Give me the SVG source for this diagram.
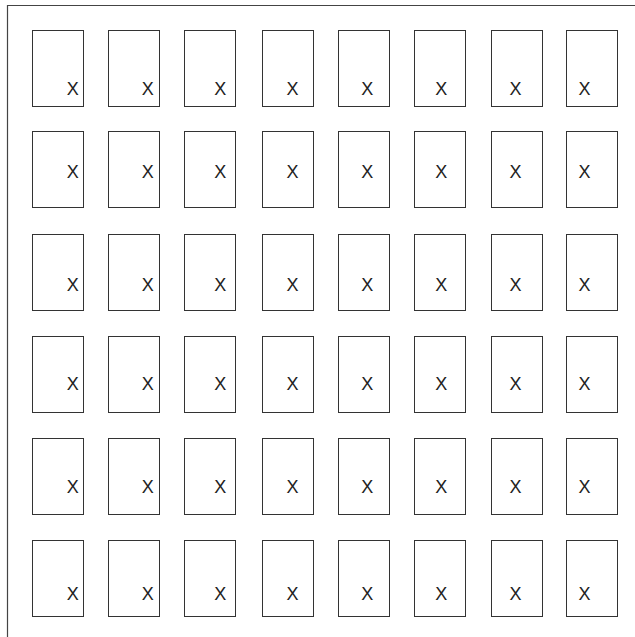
<svg xmlns="http://www.w3.org/2000/svg" width="635" height="637" viewBox="0 0 635 637">
<style>
.b{fill:#fff;stroke:#333;stroke-width:1}
.t{font-family:"Liberation Sans",Arial,sans-serif;font-size:18px;fill:#222;text-anchor:middle}
.f{fill:none;stroke:#444;stroke-width:1.2}
</style>
<rect width="635" height="637" fill="#fff"/>
<path class="f" d="M7.5,637 V5.5 H635"/>
<g id="connectors"/>
<g id="grid">
<g id="r1" transform="translate(0,30)">
<g id="n1-1"><rect class="b" x="32.5" y="0.5" width="51" height="76"/><text class="t" x="72.8" y="65">X</text></g>
<g id="n1-2"><rect class="b" x="108.5" y="0.5" width="51" height="76"/><text class="t" x="147.7" y="65">X</text></g>
<g id="n1-3"><rect class="b" x="184.5" y="0.5" width="51" height="76"/><text class="t" x="220.3" y="65">X</text></g>
<g id="n1-4"><rect class="b" x="262.5" y="0.5" width="51" height="76"/><text class="t" x="292.5" y="65">X</text></g>
<g id="n1-5"><rect class="b" x="338.5" y="0.5" width="51" height="76"/><text class="t" x="367.2" y="65">X</text></g>
<g id="n1-6"><rect class="b" x="414.5" y="0.5" width="51" height="76"/><text class="t" x="441.2" y="65">X</text></g>
<g id="n1-7"><rect class="b" x="491.5" y="0.5" width="51" height="76"/><text class="t" x="515.5" y="65">X</text></g>
<g id="n1-8"><rect class="b" x="566.5" y="0.5" width="51" height="76"/><text class="t" x="584.5" y="65">X</text></g>
</g>
<g id="r2" transform="translate(0,132)">
<g id="n2-1"><rect class="b" x="32.5" y="-0.5" width="51" height="76"/><text class="t" x="72.8" y="45.7">X</text></g>
<g id="n2-2"><rect class="b" x="108.5" y="-0.5" width="51" height="76"/><text class="t" x="147.7" y="45.7">X</text></g>
<g id="n2-3"><rect class="b" x="184.5" y="-0.5" width="51" height="76"/><text class="t" x="220.3" y="45.7">X</text></g>
<g id="n2-4"><rect class="b" x="262.5" y="-0.5" width="51" height="76"/><text class="t" x="292.5" y="45.7">X</text></g>
<g id="n2-5"><rect class="b" x="338.5" y="-0.5" width="51" height="76"/><text class="t" x="367.2" y="45.7">X</text></g>
<g id="n2-6"><rect class="b" x="414.5" y="-0.5" width="51" height="76"/><text class="t" x="441.2" y="45.7">X</text></g>
<g id="n2-7"><rect class="b" x="491.5" y="-0.5" width="51" height="76"/><text class="t" x="515.5" y="45.7">X</text></g>
<g id="n2-8"><rect class="b" x="566.5" y="-0.5" width="51" height="76"/><text class="t" x="584.5" y="45.7">X</text></g>
</g>
<g id="r3" transform="translate(0,234)">
<g id="n3-1"><rect class="b" x="32.5" y="0.5" width="51" height="76"/><text class="t" x="72.8" y="56.7">X</text></g>
<g id="n3-2"><rect class="b" x="108.5" y="0.5" width="51" height="76"/><text class="t" x="147.7" y="56.7">X</text></g>
<g id="n3-3"><rect class="b" x="184.5" y="0.5" width="51" height="76"/><text class="t" x="220.3" y="56.7">X</text></g>
<g id="n3-4"><rect class="b" x="262.5" y="0.5" width="51" height="76"/><text class="t" x="292.5" y="56.7">X</text></g>
<g id="n3-5"><rect class="b" x="338.5" y="0.5" width="51" height="76"/><text class="t" x="367.2" y="56.7">X</text></g>
<g id="n3-6"><rect class="b" x="414.5" y="0.5" width="51" height="76"/><text class="t" x="441.2" y="56.7">X</text></g>
<g id="n3-7"><rect class="b" x="491.5" y="0.5" width="51" height="76"/><text class="t" x="515.5" y="56.7">X</text></g>
<g id="n3-8"><rect class="b" x="566.5" y="0.5" width="51" height="76"/><text class="t" x="584.5" y="56.7">X</text></g>
</g>
<g id="r4" transform="translate(0,336)">
<g id="n4-1"><rect class="b" x="32.5" y="0.5" width="51" height="76"/><text class="t" x="72.8" y="53.5">X</text></g>
<g id="n4-2"><rect class="b" x="108.5" y="0.5" width="51" height="76"/><text class="t" x="147.7" y="53.5">X</text></g>
<g id="n4-3"><rect class="b" x="184.5" y="0.5" width="51" height="76"/><text class="t" x="220.3" y="53.5">X</text></g>
<g id="n4-4"><rect class="b" x="262.5" y="0.5" width="51" height="76"/><text class="t" x="292.5" y="53.5">X</text></g>
<g id="n4-5"><rect class="b" x="338.5" y="0.5" width="51" height="76"/><text class="t" x="367.2" y="53.5">X</text></g>
<g id="n4-6"><rect class="b" x="414.5" y="0.5" width="51" height="76"/><text class="t" x="441.2" y="53.5">X</text></g>
<g id="n4-7"><rect class="b" x="491.5" y="0.5" width="51" height="76"/><text class="t" x="515.5" y="53.5">X</text></g>
<g id="n4-8"><rect class="b" x="566.5" y="0.5" width="51" height="76"/><text class="t" x="584.5" y="53.5">X</text></g>
</g>
<g id="r5" transform="translate(0,438)">
<g id="n5-1"><rect class="b" x="32.5" y="0.5" width="51" height="76"/><text class="t" x="72.8" y="55">X</text></g>
<g id="n5-2"><rect class="b" x="108.5" y="0.5" width="51" height="76"/><text class="t" x="147.7" y="55">X</text></g>
<g id="n5-3"><rect class="b" x="184.5" y="0.5" width="51" height="76"/><text class="t" x="220.3" y="55">X</text></g>
<g id="n5-4"><rect class="b" x="262.5" y="0.5" width="51" height="76"/><text class="t" x="292.5" y="55">X</text></g>
<g id="n5-5"><rect class="b" x="338.5" y="0.5" width="51" height="76"/><text class="t" x="367.2" y="55">X</text></g>
<g id="n5-6"><rect class="b" x="414.5" y="0.5" width="51" height="76"/><text class="t" x="441.2" y="55">X</text></g>
<g id="n5-7"><rect class="b" x="491.5" y="0.5" width="51" height="76"/><text class="t" x="515.5" y="55">X</text></g>
<g id="n5-8"><rect class="b" x="566.5" y="0.5" width="51" height="76"/><text class="t" x="584.5" y="55">X</text></g>
</g>
<g id="r6" transform="translate(0,540)">
<g id="n6-1"><rect class="b" x="32.5" y="0.5" width="51" height="76"/><text class="t" x="72.8" y="60.3">X</text></g>
<g id="n6-2"><rect class="b" x="108.5" y="0.5" width="51" height="76"/><text class="t" x="147.7" y="60.3">X</text></g>
<g id="n6-3"><rect class="b" x="184.5" y="0.5" width="51" height="76"/><text class="t" x="220.3" y="60.3">X</text></g>
<g id="n6-4"><rect class="b" x="262.5" y="0.5" width="51" height="76"/><text class="t" x="292.5" y="60.3">X</text></g>
<g id="n6-5"><rect class="b" x="338.5" y="0.5" width="51" height="76"/><text class="t" x="367.2" y="60.3">X</text></g>
<g id="n6-6"><rect class="b" x="414.5" y="0.5" width="51" height="76"/><text class="t" x="441.2" y="60.3">X</text></g>
<g id="n6-7"><rect class="b" x="491.5" y="0.5" width="51" height="76"/><text class="t" x="515.5" y="60.3">X</text></g>
<g id="n6-8"><rect class="b" x="566.5" y="0.5" width="51" height="76"/><text class="t" x="584.5" y="60.3">X</text></g>
</g>
</g>
</svg>
